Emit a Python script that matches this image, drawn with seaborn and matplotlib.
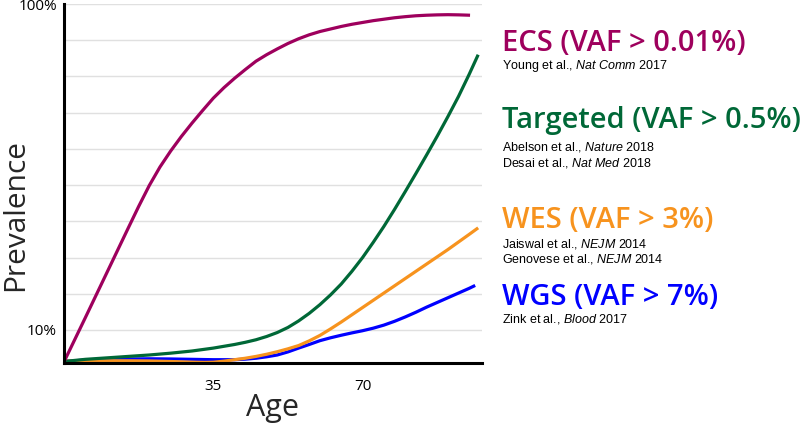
import matplotlib
matplotlib.use("Agg")
import matplotlib.pyplot as plt
import seaborn as sns
import pandas as pd

# ---- data ----
ecs_age = [0, 5, 10, 15, 17.5, 20, 22.5, 25, 27.5, 30, 32.5, 35, 37.5, 40, 42.5, 45, 47.5, 50,
           52.5, 55, 57.5, 60, 62.5, 65, 67.5, 70, 72.5, 75, 77.5, 80, 82.5, 85, 87.5, 90, 92.5, 95.2]
ecs_val = [1.2, 13.4, 25.7, 38.0, 44.1, 49.9, 55.0, 59.4, 63.4, 67.1, 70.6, 74.0, 76.9, 79.5, 81.9, 84.2, 86.0, 87.6,
           89.1, 90.4, 91.5, 92.4, 93.1, 93.8, 94.4, 94.9, 95.4, 95.8, 96.2, 96.5, 96.75, 96.9, 97.0, 97.05, 97.0, 96.9]

tgt_age = [0, 5, 10, 15, 20, 25, 30, 35, 40, 42.5, 45, 47.5, 50, 52.5, 55, 57.5, 60, 62.5, 65, 67.5,
           70, 72.5, 75, 77.5, 80, 82.5, 85, 87.5, 90, 92.5, 95, 97.1]
tgt_val = [1.3, 1.9, 2.3, 2.7, 3.1, 3.6, 4.2, 5.0, 6.0, 6.6, 7.3, 8.2, 9.3, 10.7, 12.5, 14.6, 17.0, 19.7, 22.7, 26.2,
           30.0, 34.2, 38.6, 43.3, 48.2, 53.2, 58.3, 63.5, 68.9, 74.5, 80.6, 86.0]

wes_age = [0, 5, 10, 15, 20, 25, 30, 33, 35, 37.5, 40, 42.5, 45, 47.5, 50, 52.5, 55, 57.5, 60, 62.5,
           65, 67.5, 70, 72.5, 75, 77.5, 80, 82.5, 85, 87.5, 90, 92.5, 95, 97.1]
wes_val = [1.4, 1.45, 1.5, 1.5, 1.45, 1.3, 1.12, 1.05, 1.1, 1.4, 1.8, 2.2, 2.7, 3.3, 4.0, 4.8, 5.7, 7.0, 8.5, 10.3,
           12.2, 14.2, 16.2, 18.2, 20.2, 22.2, 24.2, 26.2, 28.2, 30.2, 32.2, 34.3, 36.4, 38.2]

wgs_age = [0, 5, 10, 15, 20, 25, 30, 35, 40, 42.5, 45, 47.5, 50, 52.5, 55, 57.5, 60, 62.5, 65, 67.5,
           70, 72.5, 75, 77.5, 80, 82.5, 85, 87.5, 90, 92.5, 95, 96.4]
wgs_val = [1.3, 1.7, 1.9, 2.0, 2.05, 2.0, 1.9, 1.8, 1.8, 1.95, 2.2, 2.6, 3.1, 3.95, 5.0, 6.0, 7.05, 7.85, 8.55, 9.2,
           9.8, 10.5, 11.35, 12.4, 13.6, 14.9, 16.3, 17.6, 18.9, 20.2, 21.5, 22.3]

methods = ["ECS (VAF > 0.01%)", "Targeted (VAF > 0.5%)", "WES (VAF > 3%)", "WGS (VAF > 7%)"]
colors = ["#9E005D", "#006837", "#F7931E", "#0000FF"]
refs = [
    [r"Young et al., $\mathit{Nat\ Comm}$ 2017"],
    [r"Abelson et al., $\mathit{Nature}$ 2018", r"Desai et al., $\mathit{Nat\ Med}$ 2018"],
    [r"Jaiswal et al., $\mathit{NEJM}$ 2014", r"Genovese et al., $\mathit{NEJM}$ 2014"],
    [r"Zink et al., $\mathit{Blood}$ 2017"],
]
grid_vals = [10, 20, 30, 40, 50, 60, 70, 80, 90, 100]
ytick_labels = ["10%", "", "", "", "", "", "", "", "", "100%"]
xtick_vals = [35, 70]

# ---- frame ----
frames = []
for name, a, v in zip(methods, [ecs_age, tgt_age, wes_age, wgs_age], [ecs_val, tgt_val, wes_val, wgs_val]):
    frames.append(pd.DataFrame({"age": a, "prevalence": v, "method": name}))
df = pd.concat(frames, ignore_index=True)

sns.set_style("white")
plt.rcParams["font.family"] = ["Open Sans", "DejaVu Sans"]
plt.rcParams["mathtext.fontset"] = "custom"
plt.rcParams["mathtext.rm"] = "Liberation Sans"
plt.rcParams["mathtext.it"] = "Liberation Sans:italic"

W, H = 800, 424
fig = plt.figure(figsize=(W / 100, H / 100), dpi=100)
ax = fig.add_axes([64 / W, 1 - 362.7 / H, 418 / W, (362.7 - 4) / H])

palette = dict(zip(methods, colors))
draw_order = methods[::-1]
sns.lineplot(data=df, x="age", y="prevalence", hue="method", hue_order=draw_order,
             palette=palette, estimator=None, sort=False, legend=False,
             linewidth=2.3, solid_joinstyle="round", solid_capstyle="butt", ax=ax)

ax.set_xlim(0, 98)
ax.set_ylim(0.97, 100)
ax.set_yticks(grid_vals)
ax.set_yticklabels(ytick_labels)
ax.set_xticks(xtick_vals)
ax.set_xticklabels([str(t) for t in xtick_vals])
ax.grid(axis="y", color="#e0e0e0", linewidth=1)
ax.grid(axis="x", visible=False)
ax.set_axisbelow(True)
for s in ["top", "right"]:
    ax.spines[s].set_visible(False)
for s in ["left", "bottom"]:
    ax.spines[s].set_color("black")
    ax.spines[s].set_linewidth(2.2)
ax.tick_params(axis="y", length=0, pad=5, labelsize=11, colors="black")
ax.tick_params(axis="x", length=7, width=1.8, direction="out", pad=5, labelsize=11, colors="black")

ax.set_xlabel("Age", fontsize=22)
ax.xaxis.set_label_coords(0.5, -0.125)
ax.xaxis.label.set_verticalalignment("center")
ax.set_ylabel("Prevalence", fontsize=21.5)
ax.yaxis.set_label_coords(-0.115, 0.412)
ax.yaxis.label.set_verticalalignment("center")

# ---- right-side annotations ----
x0 = 502 / W
title_base = [51, 128.3, 228.3, 305]
ref_base = [[69], [150.7, 166.7], [247.3, 262.3], [322.7]]
for name, col, tb, rl, rb in zip(methods, colors, title_base, refs, ref_base):
    fig.text(x0, 1 - tb / H, name, color=col, fontsize=21, fontweight="semibold",
             va="baseline", ha="left")
    for line, b in zip(rl, rb):
        fig.text(x0, 1 - b / H, line, color="black", fontsize=9,
                 family="Liberation Sans", va="baseline", ha="left")

fig.savefig("out.png", dpi=100)
